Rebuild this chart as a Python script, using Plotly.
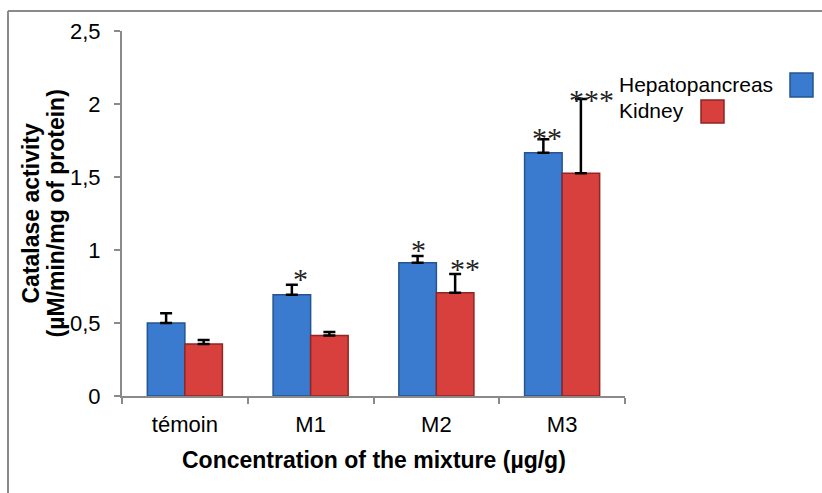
import plotly.graph_objects as go

categories = ["témoin", "M1", "M2", "M3"]
hepato = [0.50, 0.694, 0.913, 1.666]
hepato_err = [0.066, 0.068, 0.046, 0.092]
kidney = [0.356, 0.415, 0.708, 1.525]
kidney_err = [0.028, 0.023, 0.128, 0.509]
hepato_sig = ["", "*", "*", "**"]
kidney_sig = ["", "", "**", "***"]
series_names = ["Hepatopancreas", "Kidney"]
x_title = "Concentration of the mixture (µg/g)"
y_title_lines = ["Catalase activity", "(µM/min/mg of protein)"]

# label offsets (pixels) for significance marks: (dx from bar centre, dy above cap)
hepato_sig_off = [(0, 0), (9, 8), (1, 8), (4, 4)]
kidney_sig_off = [(0, 0), (0, 0), (10, 7), (11, 2)]

W, H = 822, 493
L, R, T, B = 122, 197, 31, 97
pw, ph = W - L - R, H - T - B

def px(x):
    return (x - L) / pw

def py(y):
    return (H - B - y) / ph

SANS = "Liberation Sans, Arial, sans-serif"
SERIF = "Liberation Serif, Times New Roman, serif"
blue, blue_edge = "#3b7bcf", "#24558f"
red, red_edge = "#d7403c", "#8f2623"

fig = go.Figure()
fig.add_trace(go.Bar(
    x=categories, y=hepato, name=series_names[0],
    marker=dict(color=blue, line=dict(color=blue_edge, width=1.5)),
    error_y=dict(type="data", array=hepato_err, arrayminus=[0] * 4, symmetric=False,
                 color="black", thickness=2.5, width=6),
))
fig.add_trace(go.Bar(
    x=categories, y=kidney, name=series_names[1],
    marker=dict(color=red, line=dict(color=red_edge, width=1.5)),
    error_y=dict(type="data", array=kidney_err, arrayminus=[0] * 4, symmetric=False,
                 color="black", thickness=2.5, width=6),
))

annotations = []
bar_half = 18.8
for vals, errs, sigs, offs, side in [(hepato, hepato_err, hepato_sig, hepato_sig_off, -1),
                                     (kidney, kidney_err, kidney_sig, kidney_sig_off, 1)]:
    for c, v, e, s, (dx, dy) in zip(categories, vals, errs, sigs, offs):
        if s:
            annotations.append(dict(
                x=c, y=v + e, xref="x", yref="y", text=s, showarrow=False,
                xshift=side * bar_half + dx, yshift=dy - 2, yanchor="middle", xanchor="center",
                font=dict(family=SERIF, size=30, color="#222"),
            ))

# legend (text then swatch, as in the reference)
for name, yc in zip(series_names, [85, 110]):
    annotations.append(dict(x=px(617), y=py(yc), xref="paper", yref="paper", text=name,
                            showarrow=False, xanchor="left", yanchor="middle",
                            font=dict(family=SANS, size=21, color="black")))

# axis titles
annotations.append(dict(x=0.5, y=py(460), xref="paper", yref="paper", text="<b>%s</b>" % x_title,
                        showarrow=False, xanchor="center", yanchor="middle",
                        font=dict(family=SANS, size=23, color="black")))
for line, xc in zip(y_title_lines, [30, 55]):
    annotations.append(dict(x=px(xc), y=0.5, xref="paper", yref="paper", text="<b>%s</b>" % line,
                            showarrow=False, xanchor="center", yanchor="middle", textangle=-90,
                            font=dict(family=SANS, size=23, color="black")))

shapes = [
    dict(type="line", xref="paper", yref="paper", x0=px(8), x1=px(830), y0=py(11), y1=py(11),
         line=dict(color="#8a8a8a", width=2)),
    dict(type="line", xref="paper", yref="paper", x0=px(8), x1=px(8), y0=py(11), y1=py(500),
         line=dict(color="#8a8a8a", width=2)),
    dict(type="rect", xref="paper", yref="paper", x0=px(790), x1=px(813), y0=py(97), y1=py(73),
         fillcolor=blue, line=dict(color=blue_edge, width=1.5)),
    dict(type="rect", xref="paper", yref="paper", x0=px(701), x1=px(724), y0=py(123), y1=py(100),
         fillcolor=red, line=dict(color=red_edge, width=1.5)),
]

fig.update_layout(
    width=W, height=H,
    margin=dict(l=L, r=R, t=T, b=B),
    paper_bgcolor="white", plot_bgcolor="white",
    barmode="group", bargap=0.403, bargroupgap=0,
    showlegend=False,
    separators=",.",
    font=dict(family=SANS, size=22, color="black"),
    annotations=annotations, shapes=shapes,
    xaxis=dict(
        showline=True, linecolor="#8a8a8a", linewidth=2,
        ticks="outside", tickson="boundaries", ticklen=6, tickcolor="#8a8a8a", tickwidth=1.5,
        tickfont=dict(size=22), ticklabelstandoff=8,
    ),
    yaxis=dict(
        range=[0, 2.5], tickvals=[0, 0.5, 1, 1.5, 2, 2.5],
        showline=True, linecolor="#8a8a8a", linewidth=2, showgrid=False, zeroline=False,
        ticks="outside", ticklen=6, tickcolor="#8a8a8a", tickwidth=1.5,
        tickfont=dict(size=22), ticklabelstandoff=9,
    ),
)

fig.write_html("out.html")
